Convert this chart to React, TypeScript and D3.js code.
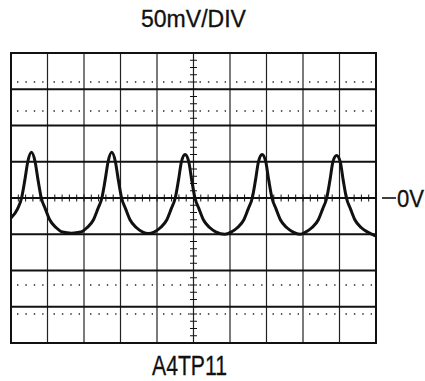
import React from 'react';
import * as d3 from 'd3';

// scope screen: 10 x 8 divisions
const xDivs = [0, 1, 2, 3, 4, 5, 6, 7, 8, 9, 10];
const yDivs = [-4, -3, -2, -1, 0, 1, 2, 3, 4];
const dottedLevels = [3.2, 2.4, -2.4, -3.2];

// trace: [time (div), volts (div)]
const trace: [number, number][] = [
  [0.0, -0.55], [0.18, -0.3], [0.29, 0.0], [0.38, 0.5], [0.46, 1.0], [0.56, 1.26],
  [0.66, 1.0], [0.74, 0.5], [0.83, 0.0], [0.94, -0.3], [1.06, -0.6], [1.24, -0.82],
  [1.41, -0.94], [1.66, -0.97], [1.91, -0.94], [2.08, -0.82], [2.26, -0.6], [2.38, -0.3],
  [2.49, 0.0], [2.58, 0.5], [2.66, 1.0], [2.76, 1.26], [2.86, 1.0], [2.94, 0.5],
  [3.03, 0.0], [3.14, -0.3], [3.26, -0.6], [3.44, -0.82], [3.61, -0.94], [3.76, -0.98],
  [3.92, -0.94], [4.09, -0.82], [4.27, -0.6], [4.39, -0.3], [4.5, 0.0], [4.59, 0.5],
  [4.67, 1.0], [4.77, 1.2], [4.87, 1.0], [4.95, 0.5], [5.04, 0.0], [5.15, -0.3],
  [5.27, -0.6], [5.45, -0.82], [5.62, -0.94], [5.86, -1.0], [6.03, -0.94], [6.2, -0.82],
  [6.38, -0.6], [6.5, -0.3], [6.61, 0.0], [6.7, 0.5], [6.78, 1.0], [6.88, 1.2],
  [6.98, 1.0], [7.06, 0.5], [7.15, 0.0], [7.26, -0.3], [7.38, -0.6], [7.56, -0.82],
  [7.73, -0.94], [7.92, -1.0], [8.07, -0.94], [8.24, -0.82], [8.42, -0.6], [8.54, -0.3],
  [8.65, 0.0], [8.74, 0.5], [8.82, 1.0], [8.92, 1.17], [9.02, 1.0], [9.1, 0.5],
  [9.19, 0.0], [9.3, -0.3], [9.42, -0.6], [9.6, -0.82], [9.77, -0.94], [10.0, -1.05],
];

const titleText = '50mV/DIV';
const footerText = 'A4TP11';
const zeroLabel = '0V';

const W = 425;
const H = 381;
const font = '"Liberation Sans", Arial, sans-serif';

const App: React.FC = () => {
  const x = d3.scaleLinear().domain([0, 10]).range([11, 376]);
  const y = d3.scaleLinear().domain([-4, 4]).range([343, 53]);

  const line = d3
    .line<[number, number]>()
    .x((d) => x(d[0]))
    .y((d) => y(d[1]))
    .curve(d3.curveMonotoneX);

  // minor ticks on the centre lines, every 1/5 division
  const minorX = d3.range(0, 51).map((i) => i * 0.2);
  const minorY = d3.range(0, 41).map((i) => -4 + i * 0.2);

  return (
    <svg
      width={W}
      height={H}
      style={{ position: 'absolute', left: 0, top: 0, background: '#fff' }}
    >
      <text
        x={x(5)}
        y={27}
        textAnchor="middle"
        fontFamily={font}
        fontSize={23}
        textLength={105}
        lengthAdjust="spacingAndGlyphs"
        fill="#111"
        stroke="#111"
        strokeWidth={0.3}
      >
        {titleText}
      </text>

      {/* vertical grid */}
      {xDivs.slice(1, -1).map((d) => (
        <line key={`v${d}`} x1={x(d)} x2={x(d)} y1={y(4)} y2={y(-4)} stroke="#222" strokeWidth={1.2} />
      ))}
      {/* horizontal grid */}
      {yDivs.slice(1, -1).map((d) => (
        <line key={`h${d}`} x1={x(0)} x2={x(10)} y1={y(d)} y2={y(d)} stroke="#111" strokeWidth={d === 0 ? 2 : 1.8} />
      ))}
      {/* dotted rise-time lines */}
      {dottedLevels.map((d) =>
        xDivs.slice(0, -1).map((c) => (
          <line
            key={`d${d}-${c}`}
            x1={x(c) + 6}
            x2={x(c + 1) - 4}
            y1={y(d)}
            y2={y(d)}
            stroke="#222"
            strokeWidth={1.3}
            strokeDasharray="1.4,7"
          />
        ))
      )}
      {/* centre ticks */}
      {minorX.map((v) => (
        <line key={`mx${v}`} x1={x(v)} x2={x(v)} y1={y(0) - 3.5} y2={y(0) + 3.5} stroke="#111" strokeWidth={1} />
      ))}
      {minorY.map((v) => (
        <line key={`my${v}`} x1={x(5) - 3.5} x2={x(5) + 3.5} y1={y(v)} y2={y(v)} stroke="#111" strokeWidth={1} />
      ))}
      {/* border */}
      <rect x={x(0)} y={y(4)} width={x(10) - x(0)} height={y(-4) - y(4)} fill="none" stroke="#111" strokeWidth={2} />

      {/* trace */}
      <path d={line(trace) ?? ''} fill="none" stroke="#111" strokeWidth={3} strokeLinejoin="round" />

      {/* zero marker */}
      <line x1={382} x2={396} y1={y(0)} y2={y(0)} stroke="#111" strokeWidth={1.6} />
      <text
        x={397}
        y={y(0) + 8.5}
        fontFamily={font}
        fontSize={23}
        textLength={27}
        lengthAdjust="spacingAndGlyphs"
        fill="#111"
        stroke="#111"
        strokeWidth={0.3}
      >
        {zeroLabel}
      </text>

      <text
        x={x(5) - 4}
        y={375}
        textAnchor="middle"
        fontFamily={font}
        fontSize={27}
        textLength={75}
        lengthAdjust="spacingAndGlyphs"
        fill="#111"
        stroke="#111"
        strokeWidth={0.3}
      >
        {footerText}
      </text>
    </svg>
  );
};

export default App;
